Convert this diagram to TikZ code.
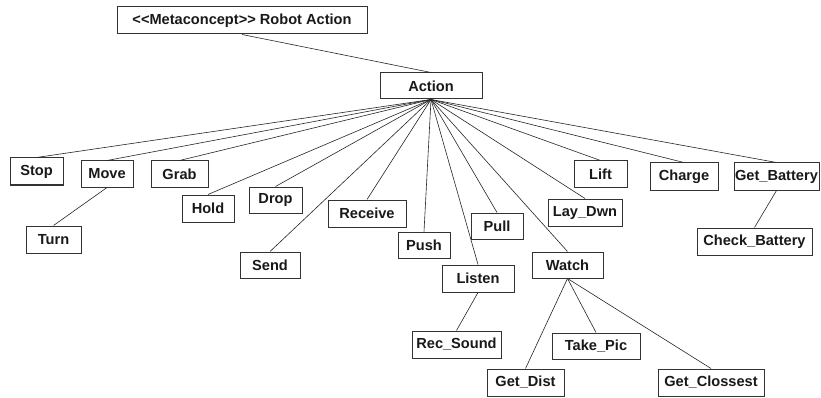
\documentclass[tikz,border=0pt]{standalone}
\usepackage{fontspec}
\setmainfont{Liberation Sans}
\begin{document}
\begin{tikzpicture}[x=1pt,y=-1pt,
  box/.style={draw=black!80,line width=1pt,fill=white,inner sep=0pt,
    font=\fontsize{14.6}{16}\selectfont\bfseries,text=black!90},
  link/.style={draw=black!85,line width=0.6pt}]
\fill[white] (0,0) rectangle (821,398);
\useasboundingbox (0,0) rectangle (821,398);
\newcommand{\bx}[6]{\node[box,minimum width=#4pt,minimum height=#5pt] (#1) at (#2,#3) {#6};}
\bx{meta}{242}{20.5}{250}{27}{<{}<Metaconcept>{}> Robot Action}
\bx{action}{431}{86}{102}{26}{Action}
\bx{stop}{36.5}{171.5}{53}{27}{Stop}
\bx{move}{107}{174}{52}{26}{Move}
\bx{grab}{179.5}{174}{57}{26}{Grab}
\bx{hold}{208}{208.5}{52}{27}{Hold}
\bx{drop}{275.5}{200}{53}{26}{Drop}
\bx{receive}{367}{213.5}{78}{27}{Receive}
\bx{turn}{53.5}{239.5}{55}{27}{Turn}
\bx{send}{270}{265}{60}{26}{Send}
\bx{push}{424}{245}{52}{26}{Push}
\bx{pull}{497}{226}{52}{26}{Pull}
\bx{lift}{600.5}{174}{53}{26}{Lift}
\bx{charge}{684}{176.5}{68}{27}{Charge}
\bx{getbat}{776.5}{176.5}{85}{27}{Get\_Battery}
\bx{laydwn}{585}{212.5}{74}{27}{Lay\_Dwn}
\bx{checkbat}{754.5}{241.5}{115}{27}{Check\_Battery}
\bx{watch}{567.5}{265}{71}{26}{Watch}
\bx{listen}{478}{278.5}{72}{27}{Listen}
\bx{recsound}{456.5}{344.5}{89}{27}{Rec\_Sound}
\bx{takepic}{596}{346}{88}{26}{Take\_Pic}
\bx{getdist}{525.5}{382.5}{77}{27}{Get\_Dist}
\bx{getclos}{711}{382.5}{106}{27}{Get\_Clossest}
\draw[link] (meta.south) -- (action.north);
\foreach \c in {stop,move,grab,hold,drop,receive,send,push,pull,listen,watch,laydwn,lift,charge,getbat}
  \draw[link] (action.south) -- (\c.north);
\draw[link] (move.south) -- (turn.north);
\draw[link] (getbat.south) -- (checkbat.north);
\draw[link] (listen.south) -- (recsound.north);
\foreach \c in {getdist,takepic,getclos}
  \draw[link] (watch.south) -- (\c.north);
\end{tikzpicture}
\end{document}
